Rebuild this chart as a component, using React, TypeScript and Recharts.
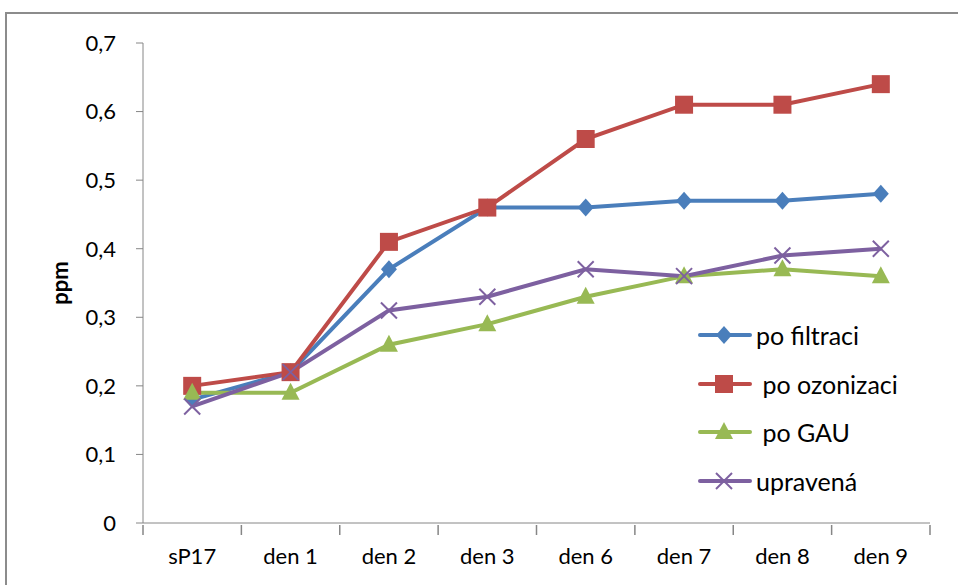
import React from "react";
import { LineChart, Line, XAxis, YAxis } from "recharts";

const days = ["sP17", "den 1", "den 2", "den 3", "den 6", "den 7", "den 8", "den 9"];
const poFiltraci = [0.18, 0.22, 0.37, 0.46, 0.46, 0.47, 0.47, 0.48];
const poOzonizaci = [0.2, 0.22, 0.41, 0.46, 0.56, 0.61, 0.61, 0.64];
const poGau = [0.19, 0.19, 0.26, 0.29, 0.33, 0.36, 0.37, 0.36];
const upravena = [0.17, 0.22, 0.31, 0.33, 0.37, 0.36, 0.39, 0.4];
const yTicks = [0, 0.1, 0.2, 0.3, 0.4, 0.5, 0.6, 0.7];

const data = days.map((day, i) => ({
  day,
  filtrace: poFiltraci[i],
  ozonizace: poOzonizaci[i],
  gau: poGau[i],
  upravena: upravena[i],
}));

const FONT = "Lato, 'Liberation Sans', sans-serif";
const AXIS = "#868686";

const series = [
  { key: "filtrace", name: "po filtraci", color: "#4A7EBB", shape: "diamond" },
  { key: "ozonizace", name: " po ozonizaci", color: "#BE4B48", shape: "square" },
  { key: "gau", name: " po GAU", color: "#98B954", shape: "triangle" },
  { key: "upravena", name: "upravená", color: "#7D60A0", shape: "cross" },
];

function Marker({ cx, cy, shape, color }: { cx: number; cy: number; shape: string; color: string }) {
  if (cx == null || cy == null) return null;
  if (shape === "diamond")
    return <path d={`M${cx} ${cy - 9}L${cx + 8} ${cy}L${cx} ${cy + 9}L${cx - 8} ${cy}Z`} fill={color} />;
  if (shape === "square")
    return <rect x={cx - 9} y={cy - 9} width={18} height={18} fill={color} />;
  if (shape === "triangle")
    return <path d={`M${cx} ${cy - 10}L${cx + 9} ${cy + 7}L${cx - 9} ${cy + 7}Z`} fill={color} />;
  return (
    <g stroke={color} strokeWidth={2}>
      <line x1={cx - 8} y1={cy - 8} x2={cx + 8} y2={cy + 8} />
      <line x1={cx - 8} y1={cy + 8} x2={cx + 8} y2={cy - 8} />
    </g>
  );
}

// label centred in its band, tick marks on the band edges (Excel style)
function DayTick(props: any) {
  const { x, y, payload, index, visibleTicksCount } = props;
  const half = payload?.offset ?? 0;
  return (
    <g>
      <line x1={x - half} y1={y} x2={x - half} y2={y + 10} stroke={AXIS} strokeWidth={1.5} />
      {index === visibleTicksCount - 1 && (
        <line x1={x + half} y1={y} x2={x + half} y2={y + 10} stroke={AXIS} strokeWidth={1.5} />
      )}
      <text x={x} y={y + 39} textAnchor="middle" fill="#000" fontFamily={FONT} fontSize={22}>
        {payload.value}
      </text>
    </g>
  );
}

function ChartLegend() {
  return (
    <div style={{ position: "absolute", left: 698, top: 311, fontFamily: FONT, fontSize: 25, color: "#000" }}>
      {series.map((s) => (
        <div key={s.key} style={{ display: "flex", alignItems: "center", height: 48.6 }}>
          <svg width={56} height={24}>
            <line x1={2} y1={12} x2={52} y2={12} stroke={s.color} strokeWidth={4} strokeLinecap="round" />
            <Marker cx={26} cy={12} shape={s.shape} color={s.color} />
          </svg>
          <span style={{ whiteSpace: "pre", marginLeft: 2 }}>{s.name}</span>
        </div>
      ))}
    </div>
  );
}

export default function App() {
  return (
    <div style={{ position: "absolute", left: 0, top: 0, width: 958, height: 585, overflow: "hidden", background: "#fff" }}>
      <div
        style={{
          position: "absolute",
          left: 5,
          top: 12,
          width: 1000,
          height: 700,
          border: "2px solid #8c8c8c",
        }}
      />
      <LineChart
        width={958}
        height={585}
        data={data}
        margin={{ top: 43, right: 28, left: 43, bottom: 0 }}
        style={{ position: "absolute", left: 0, top: 0 }}
      >
        <XAxis
          dataKey="day"
          scale="band"
          stroke={AXIS}
          tickLine={false}
          tickSize={0}
          height={62}
          interval={0}
          tick={<DayTick />}
        />
        <YAxis
          domain={[0, 0.7]}
          ticks={yTicks}
          width={100}
          tickSize={7}
          tickMargin={20}
          stroke={AXIS}
          tick={{ fill: "#000", fontFamily: FONT, fontSize: 22 }}
          tickFormatter={(v: number) => (v === 0 ? "0" : v.toFixed(1).replace(".", ","))}
          label={{
            value: "ppm",
            angle: -90,
            position: "insideLeft",
            offset: 17,
            style: { textAnchor: "middle", fontFamily: FONT, fontWeight: "bold", fontSize: 22, fill: "#000" },
          }}
        />
        {series.map((s) => (
          <Line
            key={s.key}
            dataKey={s.key}
            name={s.name}
            stroke={s.color}
            strokeWidth={4}
            isAnimationActive={false}
            dot={(p: any) => <Marker key={`${s.key}-${p.index}`} cx={p.cx} cy={p.cy} shape={s.shape} color={s.color} />}
            activeDot={false}
          />
        ))}
      </LineChart>
      <ChartLegend />
    </div>
  );
}
